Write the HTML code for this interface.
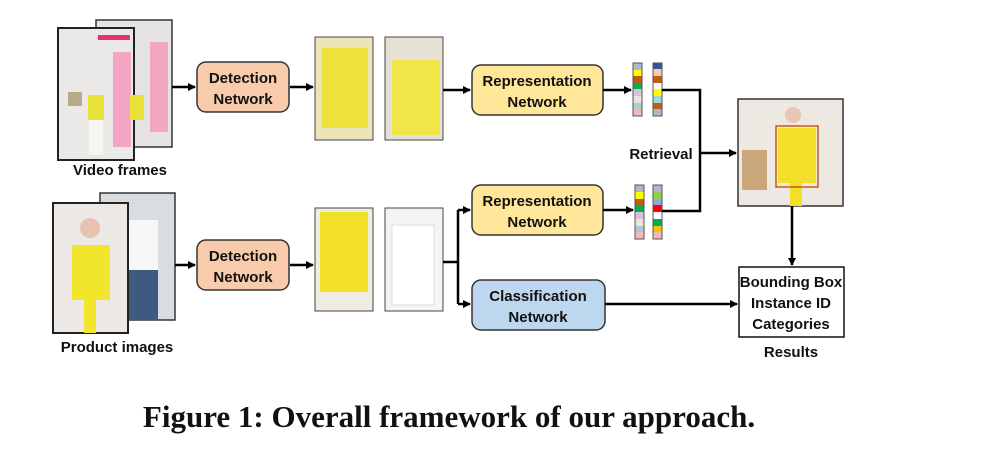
<!DOCTYPE html>
<html><head><meta charset="utf-8"><style>
html,body{margin:0;padding:0;background:#fff;}
svg{display:block;}
.t{font-family:"Liberation Sans",sans-serif;font-weight:bold;font-size:15px;fill:#111;text-anchor:middle;}
</style></head><body>
<svg width="984" height="475" viewBox="0 0 984 475" xmlns="http://www.w3.org/2000/svg">
<defs>
<marker id="a" markerWidth="8" markerHeight="8" refX="7" refY="4" orient="auto" markerUnits="userSpaceOnUse">
<path d="M0,0 L8,4 L0,8 Z" fill="#000"/></marker>
</defs>
<!-- video frames -->
<rect x="96" y="20" width="76" height="127" fill="#e6e4e2" stroke="#333" stroke-width="1.5"/>
<rect x="150" y="42" width="18" height="90" fill="#f3a6c4"/>
<rect x="58" y="28" width="76" height="132" fill="#ebe9e7" stroke="#222" stroke-width="2"/>
<rect x="113" y="52" width="18" height="95" fill="#f3a6c4"/>
<rect x="98" y="35" width="32" height="5" fill="#e8307a"/>
<rect x="68" y="92" width="14" height="14" fill="#b8a98a"/>
<rect x="88" y="95" width="16" height="25" fill="#e9e23a"/>
<rect x="89" y="120" width="14" height="35" fill="#f7f5ef"/>
<rect x="130" y="95" width="14" height="25" fill="#e9e23a"/>
<text class="t" x="120" y="175">Video frames</text>
<!-- product images -->
<rect x="100" y="193" width="75" height="127" fill="#d8dde2" stroke="#333" stroke-width="1.5"/>
<rect x="128" y="220" width="30" height="50" fill="#f7f7f7"/>
<rect x="128" y="270" width="30" height="50" fill="#3d5a80"/>
<rect x="53" y="203" width="75" height="130" fill="#ece8e5" stroke="#222" stroke-width="2"/>
<circle cx="90" cy="228" r="10" fill="#e7c2b0"/>
<rect x="72" y="245" width="38" height="55" fill="#f1e62c"/>
<rect x="84" y="300" width="12" height="33" fill="#f1e62c"/>
<text class="t" x="117" y="352">Product images</text>
<!-- detection boxes -->
<rect x="197" y="62" width="92" height="50" rx="9" fill="#f8cbad" stroke="#333" stroke-width="1.5"/>
<text class="t" x="243" y="83">Detection</text><text class="t" x="243" y="104">Network</text>
<rect x="197" y="240" width="92" height="50" rx="9" fill="#f8cbad" stroke="#333" stroke-width="1.5"/>
<text class="t" x="243" y="261">Detection</text><text class="t" x="243" y="282">Network</text>
<!-- crops -->
<rect x="315" y="37" width="58" height="103" fill="#ece3b8" stroke="#444"/>
<rect x="322" y="48" width="46" height="80" fill="#efe23a"/>
<rect x="385" y="37" width="58" height="103" fill="#e6e1d5" stroke="#444"/>
<rect x="392" y="60" width="48" height="75" fill="#f0e64a"/>
<rect x="315" y="208" width="58" height="103" fill="#f0ece4" stroke="#444"/>
<rect x="320" y="212" width="48" height="80" fill="#f2e02a"/>
<rect x="385" y="208" width="58" height="103" fill="#f4f4f4" stroke="#444"/>
<rect x="392" y="225" width="42" height="80" fill="#ffffff" stroke="#ddd"/>
<!-- rep/class boxes -->
<rect x="472" y="65" width="131" height="50" rx="9" fill="#ffe699" stroke="#333" stroke-width="1.5"/>
<text class="t" x="537" y="86">Representation</text><text class="t" x="537" y="107">Network</text>
<rect x="472" y="185" width="131" height="50" rx="9" fill="#ffe699" stroke="#333" stroke-width="1.5"/>
<text class="t" x="537" y="206">Representation</text><text class="t" x="537" y="227">Network</text>
<rect x="472" y="280" width="133" height="50" rx="9" fill="#bdd7ee" stroke="#333" stroke-width="1.5"/>
<text class="t" x="538" y="301">Classification</text><text class="t" x="538" y="322">Network</text>
<!-- vectors -->
<g stroke="none">
<rect x="633" y="63" width="9" height="7" fill="#adb9ca"/><rect x="633" y="70" width="9" height="6" fill="#ffff00"/><rect x="633" y="76" width="9" height="7" fill="#c55a11"/><rect x="633" y="83" width="9" height="6" fill="#00b050"/><rect x="633" y="89" width="9" height="7" fill="#d9bfe0"/><rect x="633" y="96" width="9" height="7" fill="#ede2dc"/><rect x="633" y="103" width="9" height="6" fill="#abcdd2"/><rect x="633" y="109" width="9" height="7" fill="#f4b8b8"/>
<rect x="653" y="63" width="9" height="6" fill="#2f5597"/><rect x="653" y="69" width="9" height="7" fill="#f8cbad"/><rect x="653" y="76" width="9" height="7" fill="#c55a11"/><rect x="653" y="83" width="9" height="6" fill="#fff"/><rect x="653" y="89" width="9" height="7" fill="#ffff00"/><rect x="653" y="96" width="9" height="7" fill="#9ddad6"/><rect x="653" y="103" width="9" height="6" fill="#c55a11"/><rect x="653" y="109" width="9" height="7" fill="#adb9ca"/>
<rect x="635" y="185" width="9" height="7" fill="#adb9ca"/><rect x="635" y="192" width="9" height="7" fill="#ffff00"/><rect x="635" y="199" width="9" height="6" fill="#c55a11"/><rect x="635" y="205" width="9" height="7" fill="#00b050"/><rect x="635" y="212" width="9" height="7" fill="#d9bfe0"/><rect x="635" y="219" width="9" height="7" fill="#ede2dc"/><rect x="635" y="226" width="9" height="6" fill="#abcdd2"/><rect x="635" y="232" width="9" height="7" fill="#f4b8b8"/>
<rect x="653" y="185" width="9" height="7" fill="#adb9ca"/><rect x="653" y="192" width="9" height="7" fill="#92d050"/><rect x="653" y="199" width="9" height="6" fill="#8faadc"/><rect x="653" y="205" width="9" height="7" fill="#ff0000"/><rect x="653" y="212" width="9" height="7" fill="#fff"/><rect x="653" y="219" width="9" height="7" fill="#00b050"/><rect x="653" y="226" width="9" height="6" fill="#ffc000"/><rect x="653" y="232" width="9" height="7" fill="#f4b8b8"/>
</g>
<g fill="none" stroke="#555" stroke-width="1"><rect x="633" y="63" width="9" height="53"/><rect x="653" y="63" width="9" height="53"/><rect x="635" y="185" width="9" height="54"/><rect x="653" y="185" width="9" height="54"/></g>
<text class="t" x="661" y="159">Retrieval</text>
<!-- result image -->
<rect x="738" y="99" width="105" height="107" fill="#eee8e2" stroke="#333" stroke-width="1.5"/>
<rect x="742" y="150" width="25" height="40" fill="#c9a77b"/>
<circle cx="793" cy="115" r="8" fill="#e8c7b5"/>
<rect x="778" y="128" width="38" height="55" fill="#f1df2a"/>
<rect x="790" y="183" width="12" height="23" fill="#f1df2a"/>
<rect x="776" y="126" width="42" height="61" fill="none" stroke="#c55a11" stroke-width="1.5"/>
<!-- results box -->
<rect x="739" y="267" width="105" height="70" fill="#fff" stroke="#111" stroke-width="1.5"/>
<text class="t" x="791" y="287">Bounding Box</text><text class="t" x="791" y="308">Instance ID</text><text class="t" x="791" y="329">Categories</text>
<text class="t" x="791" y="357">Results</text>
<!-- connectors -->
<g stroke="#000" stroke-width="2.5" fill="none">
<line x1="172" y1="87" x2="195" y2="87" marker-end="url(#a)"/>
<line x1="290" y1="87" x2="313" y2="87" marker-end="url(#a)"/>
<line x1="443" y1="90" x2="470" y2="90" marker-end="url(#a)"/>
<line x1="603" y1="90" x2="631" y2="90" marker-end="url(#a)"/>
<line x1="603" y1="210" x2="633" y2="210" marker-end="url(#a)"/>
<polyline points="662,90 700,90 700,211 662,211"/>
<line x1="700" y1="153" x2="736" y2="153" marker-end="url(#a)"/>
<line x1="175" y1="265" x2="195" y2="265" marker-end="url(#a)"/>
<line x1="290" y1="265" x2="313" y2="265" marker-end="url(#a)"/>
<polyline points="443,262 458,262"/>
<polyline points="458,210 458,304"/>
<line x1="458" y1="210" x2="470" y2="210" marker-end="url(#a)"/>
<line x1="458" y1="304" x2="470" y2="304" marker-end="url(#a)"/>
<line x1="605" y1="304" x2="737" y2="304" marker-end="url(#a)"/>
<line x1="792" y1="206" x2="792" y2="265" marker-end="url(#a)"/>
</g>
<text x="449" y="427" text-anchor="middle" style="font-family:'Liberation Serif',serif;font-weight:bold;font-size:31px;fill:#111">Figure 1: Overall framework of our approach.</text>
</svg>
</body></html>
